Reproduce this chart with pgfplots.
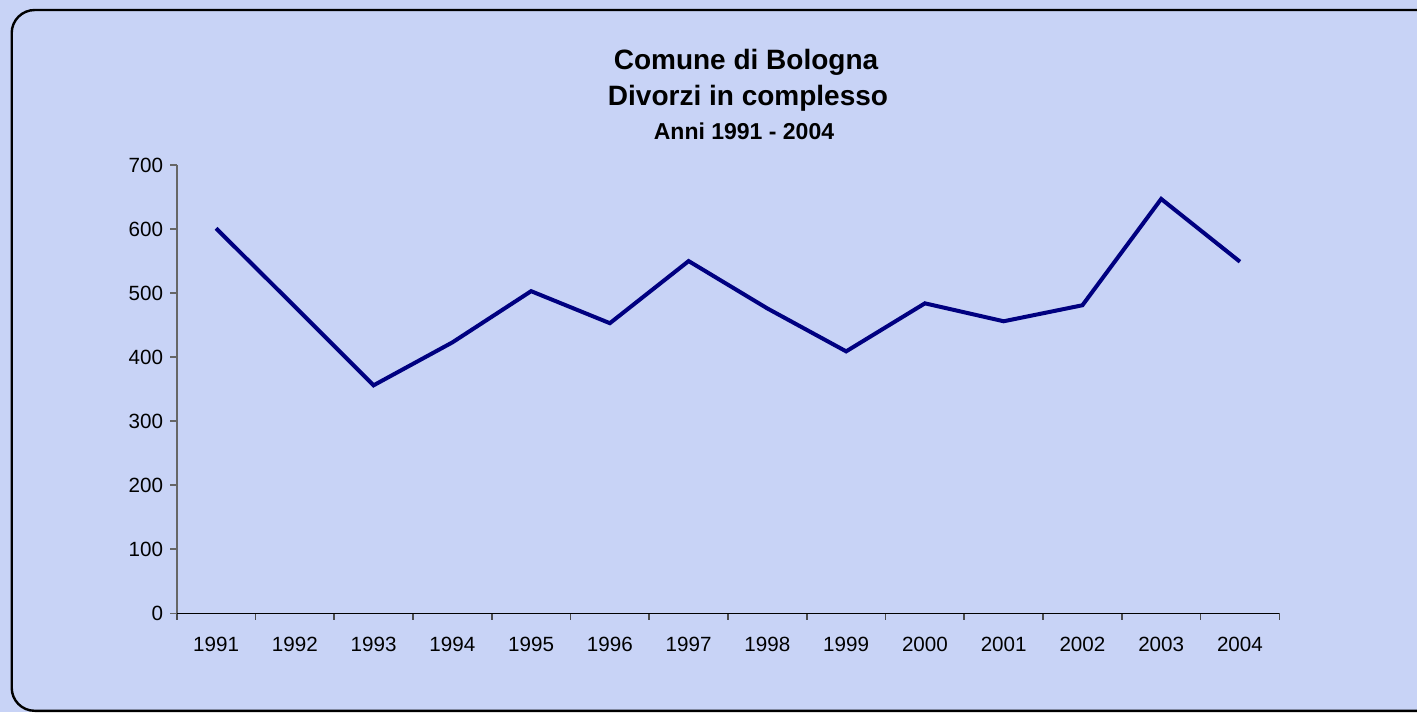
\documentclass[border=0pt]{standalone}
\usepackage{pgfplots}
\pgfplotsset{compat=1.18}
\usepackage{fontspec}
\setmainfont{Liberation Sans}
\definecolor{bgcol}{RGB}{200,211,246}
\definecolor{navyline}{RGB}{0,0,128}
\pgfplotstableread{
x y
0 601
1 479
2 356
3 423
4 503
5 453
6 550
7 476
8 409
9 484
10 456
11 481
12 647
13 549
}\divorzi
\begin{document}
\begin{tikzpicture}[x=1bp,y=1bp]
\useasboundingbox (0,0) rectangle (708.5,356);
\fill[bgcol] (0,0) rectangle (708.5,356);
\begin{axis}[
  at={(88.35bp,49.35bp)}, anchor=south west,
  scale only axis, width=551.3bp, height=224.15bp,
  xmin=-0.5, xmax=13.5, ymin=0, ymax=700,
  axis x line*=bottom, axis y line*=left,
  x axis line style={black, line width=0.8bp, -},
  y axis line style={black!60, line width=0.8bp, -},
  xtick={0,...,13},
  xticklabels={1991,1992,1993,1994,1995,1996,1997,1998,1999,2000,2001,2002,2003,2004},
  every major x tick/.append style={draw=none},
  minor xtick={-0.5,0.5,...,13.5},
  minor tick length=3.2bp,
  major tick length=3.3bp,
  tick align=outside,
  every minor x tick/.append style={draw=black!70, line width=0.8bp},
  ytick={0,100,...,700},
  every major y tick/.append style={draw=black!60, line width=0.8bp},
  /pgf/number format/assume math mode=true,
  ticklabel style={font=\fontsize{10.3bp}{12bp}\selectfont},
  xticklabel style={anchor=base, yshift=-16bp},
  yticklabel style={anchor=east},
  scaled y ticks=false,
]
\addplot[navyline, line width=2bp, mark=none] table[x=x, y=y] {\divorzi};
\end{axis}
\node[anchor=base, font=\bfseries\fontsize{14bp}{16bp}\selectfont] at (373,321.35) {Comune di Bologna};
\node[anchor=base, font=\bfseries\fontsize{14bp}{16bp}\selectfont] at (374,303.5) {Divorzi in complesso};
\node[anchor=base, font=\bfseries\fontsize{11.5bp}{13bp}\selectfont] at (372,286.5) {Anni 1991 - 2004};
\begin{scope}
\clip (0,0) rectangle (708.5,356);
\draw[line width=1.2bp, rounded corners=11.5bp] (5.85,0.6) rectangle (740,351);
\end{scope}
\end{tikzpicture}
\end{document}
